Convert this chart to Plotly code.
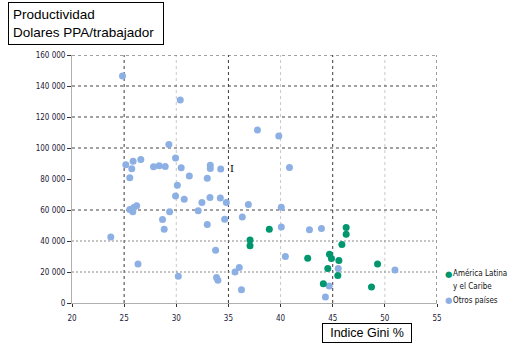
import plotly.graph_objects as go

# ---- data ----
latam_gini = [38.92, 37.07, 37.07, 42.6, 46.29, 46.29, 45.88, 44.69, 44.88, 45.59, 44.53, 45.49, 49.3, 44.1, 48.72]
latam_prod = [47600, 40700, 37000, 28900, 48700, 44400, 37700, 31400, 28700, 27400, 22200, 17700, 25200, 12500, 10300]

otros_gini = [24.84, 30.38, 29.29, 25.16, 25.86, 26.6, 25.73, 25.54, 27.82, 28.36, 28.94, 29.93, 30.47, 31.25,
              30.1, 32.97, 33.26, 33.26, 34.26, 29.93, 30.76, 32.46, 33.23, 32.1, 32.97, 25.54, 25.92, 26.2, 25.83,
              29.36, 28.68, 28.84, 23.72, 26.33, 30.19, 33.77, 33.86, 33.99, 37.78, 39.83, 40.85, 34.22, 34.8,
              36.91, 40.07, 34.64, 36.33, 40.07, 42.77, 43.92, 40.46, 36.04, 35.63, 36.25, 44.66, 44.3, 45.53, 50.97]
otros_prod = [146500, 131000, 102300, 89200, 91500, 92600, 86600, 80800, 87900, 88500, 88100, 93500, 87200, 82000,
              76000, 80500, 88900, 86800, 86400, 69100, 67000, 64800, 68000, 59500, 50600, 60300, 61600, 62800, 58900,
              58800, 53900, 47600, 42600, 25200, 17200, 34000, 16400, 14600, 111600, 107700, 87500, 67800, 64800,
              63600, 61800, 54000, 55500, 49100, 47200, 48000, 30000, 22900, 20000, 8600, 10950, 3900, 22200, 21300]

x_ticks = [20, 25, 30, 35, 40, 45, 50, 55]
y_ticks = [0, 20000, 40000, 60000, 80000, 100000, 120000, 140000, 160000]
y_ticktext = ["0", "20 000", "40 000", "60 000", "80 000", "100 000", "120 000", "140 000", "160 000"]

legend_lines = ["América Latina", "y el Caribe", "Otros países"]

# grid styling
x_grid_dark = [25, 35, 45, 55]
x_grid_light = [30, 40, 50]
y_grid_dark = [60000, 100000, 120000, 140000, 160000]
y_grid_light = [20000, 40000]

GREEN = "#00976F"
BLUE = "#8DB0E4"
NARROW = "Liberation Sans Narrow, DejaVu Sans Condensed, Arial Narrow, sans-serif"

fig = go.Figure()
fig.add_trace(go.Scatter(x=otros_gini, y=otros_prod, mode="markers", name="Otros países",
                         marker=dict(color=BLUE, size=7, line=dict(width=0)), showlegend=False))
fig.add_trace(go.Scatter(x=latam_gini, y=latam_prod, mode="markers", name="América Latina y el Caribe",
                         marker=dict(color=GREEN, size=7, line=dict(width=0)), showlegend=False))

shapes = []
for v in x_grid_dark:
    shapes.append(dict(type="line", xref="x", yref="y", x0=v, x1=v, y0=0, y1=160000, layer="below",
                       line=dict(color="#3a3a3a", width=1, dash="3px,3px")))
for v in x_grid_light:
    shapes.append(dict(type="line", xref="x", yref="y", x0=v, x1=v, y0=0, y1=160000, layer="below",
                       line=dict(color="#c8c8c8", width=1, dash="3px,3px")))
for v in y_grid_dark:
    shapes.append(dict(type="line", xref="x", yref="y", x0=20, x1=55, y0=v, y1=v, layer="below",
                       line=dict(color="#444444", width=1, dash="3px,3px")))
for v in y_grid_light:
    shapes.append(dict(type="line", xref="x", yref="y", x0=20, x1=55, y0=v, y1=v, layer="below",
                       line=dict(color="#8a8a8a", width=1.2, dash="2px,2px")))

annotations = [
    dict(text="Productividad<br>Dolares PPA/trabajador", xref="paper", yref="paper",
         x=(8 - 72) / 365, y=(303 - 2) / 248, xanchor="left", yanchor="top", align="left",
         showarrow=False, font=dict(family="Liberation Sans, Arial, sans-serif", size=13.5, color="#000"),
         bordercolor="#000", borderwidth=1, borderpad=4, width=146, height=33, bgcolor="white"),
    dict(text="Indice Gini %", xref="paper", yref="paper",
         x=(367 - 72) / 365, y=(303 - 333) / 248, xanchor="center", yanchor="middle",
         showarrow=False, font=dict(family="Liberation Sans, Arial, sans-serif", size=12.5, color="#000"),
         bordercolor="#000", borderwidth=1, borderpad=3, width=82, height=12, bgcolor="white"),
    dict(text="I", xref="paper", yref="paper", x=(231.5 - 72) / 365, y=(303 - 168.5) / 248,
         xanchor="center", yanchor="middle", showarrow=False,
         font=dict(family="DejaVu Serif, serif", size=10, color="#000")),
]

# manual legend
for col, py in [(GREEN, 274), (BLUE, 300)]:
    annotations.append(dict(text="●", xref="paper", yref="paper", x=(448.5 - 72) / 365, y=(303 - py) / 248,
                            xanchor="center", yanchor="middle", showarrow=False,
                            font=dict(family="DejaVu Sans, sans-serif", size=8.5, color=col)))
for txt, py in zip(legend_lines, [273, 286, 300]):
    annotations.append(dict(text=txt, xref="paper", yref="paper", x=(451.5 - 72) / 365,
                            y=(303 - py) / 248, xanchor="left", yanchor="middle", align="left",
                            showarrow=False, font=dict(family=NARROW, size=8, color="#111")))

fig.update_layout(
    width=514, height=353,
    margin=dict(l=72, r=77, t=55, b=50),
    plot_bgcolor="white", paper_bgcolor="white",
    shapes=shapes, annotations=annotations,
    xaxis=dict(range=[20, 55], tickvals=x_ticks, ticktext=[str(v) for v in x_ticks],
               showgrid=False, zeroline=False, showline=True, linecolor="#b0b0b0", linewidth=1,
               ticks="outside", ticklen=3, tickcolor="#333", ticklabelstandoff=4,
               tickfont=dict(family=NARROW, size=8, color="#1a1a3a")),
    yaxis=dict(range=[0, 160000], tickvals=y_ticks, ticktext=y_ticktext,
               showgrid=False, zeroline=False, showline=True, linecolor="#b0b0b0", linewidth=1,
               ticks="outside", ticklen=4, tickcolor="#333",
               tickfont=dict(family=NARROW, size=8, color="#1a1a3a")),
)

fig.write_html("out.html")
